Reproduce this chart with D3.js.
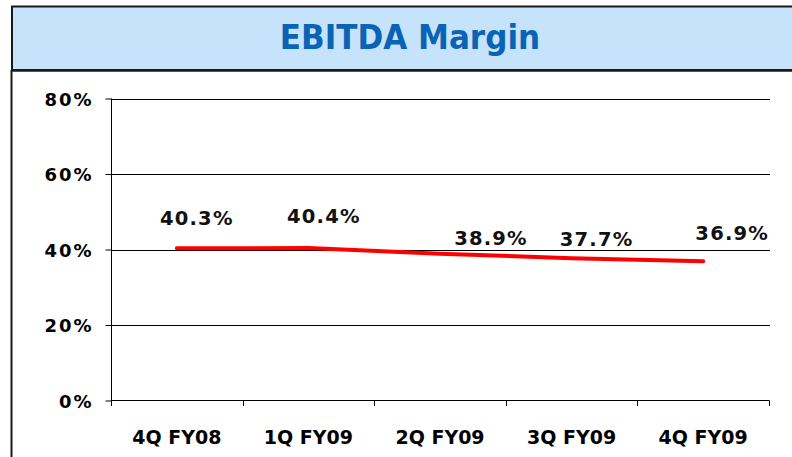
<!DOCTYPE html>
<html><head><meta charset="utf-8">
<script src="https://cdn.jsdelivr.net/npm/d3@7"></script>
<style>body{margin:0;background:#fff}svg{display:block}</style>
</head><body>
<svg id="c" width="792" height="457"></svg>
<script>
const title = "EBITDA Margin";
const categories = ["4Q FY08", "1Q FY09", "2Q FY09", "3Q FY09", "4Q FY09"];
const margins = [40.3, 40.4, 38.9, 37.7, 36.9];
const yTicks = [0, 20, 40, 60, 80];
// manual label offsets (layout, from data point)
const labelDx = [20, 15.5, 51, 25, 29];
const labelDy = [-23, -24.5, -9, -12, -21.7];

(function () {
const svg = d3.select("#c");
const W = 792, H = 457;

// title box
svg.append("rect").attr("x", 12).attr("y", 6.5).attr("width", 800).attr("height", 63.5)
  .attr("fill", "#C5E4FC").attr("stroke", "#1a1a1a").attr("stroke-width", 2);
svg.append("text").attr("x", 410).attr("y", 48.5).attr("text-anchor", "middle")
  .attr("font-family", "'DejaVu Sans Condensed','DejaVu Sans',sans-serif")
  .attr("font-weight", "bold").attr("font-size", 34.5).attr("fill", "#0A63B4")
  .text(title);
// lower frame
svg.append("line").attr("x1", 11.5).attr("x2", 11.5).attr("y1", 70).attr("y2", H)
  .attr("stroke", "#1a1a1a").attr("stroke-width", 2);
svg.append("line").attr("x1", 11).attr("x2", W).attr("y1", 70.5).attr("y2", 70.5)
  .attr("stroke", "#1a1a1a").attr("stroke-width", 2.5);

const pLeft = 111, pRight = 769, pTop = 98.5, pBottom = 400.5;
const x = d3.scaleBand().domain(categories).range([pLeft, pRight]);
const y = d3.scaleLinear().domain([0, 80]).range([pBottom, pTop]);

const font = "'DejaVu Sans',Verdana,sans-serif";

// gridlines
svg.append("g").selectAll("line").data(yTicks.filter(d => d > 0)).join("line")
  .attr("x1", pLeft).attr("x2", pRight + 1)
  .attr("y1", d => Math.round(y(d)) + 0.5).attr("y2", d => Math.round(y(d)) + 0.5)
  .attr("stroke", "#000").attr("stroke-width", 1);

// y axis
const yAxis = svg.append("g").attr("transform", `translate(${pLeft + 0.5},0)`)
  .call(d3.axisLeft(y).tickValues(yTicks).tickSize(6).tickPadding(12).tickFormat(d => d + "%"));
yAxis.select(".domain").attr("d", `M0,${pTop}V406`).attr("stroke", "#000");
yAxis.selectAll(".tick line").attr("stroke", "#000");
yAxis.selectAll(".tick text").attr("font-family", font).attr("font-weight", "bold")
  .attr("font-size", 18).attr("fill", "#000").attr("letter-spacing", "2px").attr("dy", "0.37em");

// x axis
const xAxis = svg.append("g").attr("transform", `translate(0,${pBottom})`)
  .call(d3.axisBottom(x).tickSize(0).tickPadding(0));
xAxis.select(".domain").attr("d", `M${pLeft},0H${pRight + 0.5}`).attr("stroke", "#000");
xAxis.selectAll(".tick text").attr("font-family", font).attr("font-weight", "bold")
  .attr("font-size", 19).attr("fill", "#000").attr("dy", 0).attr("y", 43);
// boundary ticks
const bounds = categories.map(c => x(c)).concat([pRight]);
svg.append("g").selectAll("line").data(bounds).join("line")
  .attr("x1", d => Math.round(d) + 0.5).attr("x2", d => Math.round(d) + 0.5)
  .attr("y1", pBottom).attr("y2", 406).attr("stroke", "#000");

// line
const cx = c => x(c) + x.bandwidth() / 2;
svg.append("path").datum(margins)
  .attr("d", d3.line().x((d, i) => cx(categories[i])).y(d => y(d)))
  .attr("fill", "none").attr("stroke", "#FF0000").attr("stroke-width", 4)
  .attr("stroke-linecap", "round").attr("stroke-linejoin", "round");

// data labels
svg.append("g").selectAll("text").data(margins).join("text")
  .attr("x", (d, i) => cx(categories[i]) + labelDx[i])
  .attr("y", (d, i) => y(d) + labelDy[i])
  .attr("text-anchor", "middle").attr("font-family", font).attr("font-weight", "bold")
  .attr("font-size", 19.5).attr("letter-spacing", "1.2px").attr("fill", "#111")
  .text(d => d.toFixed(1) + "%");
})();
</script>
</body></html>
